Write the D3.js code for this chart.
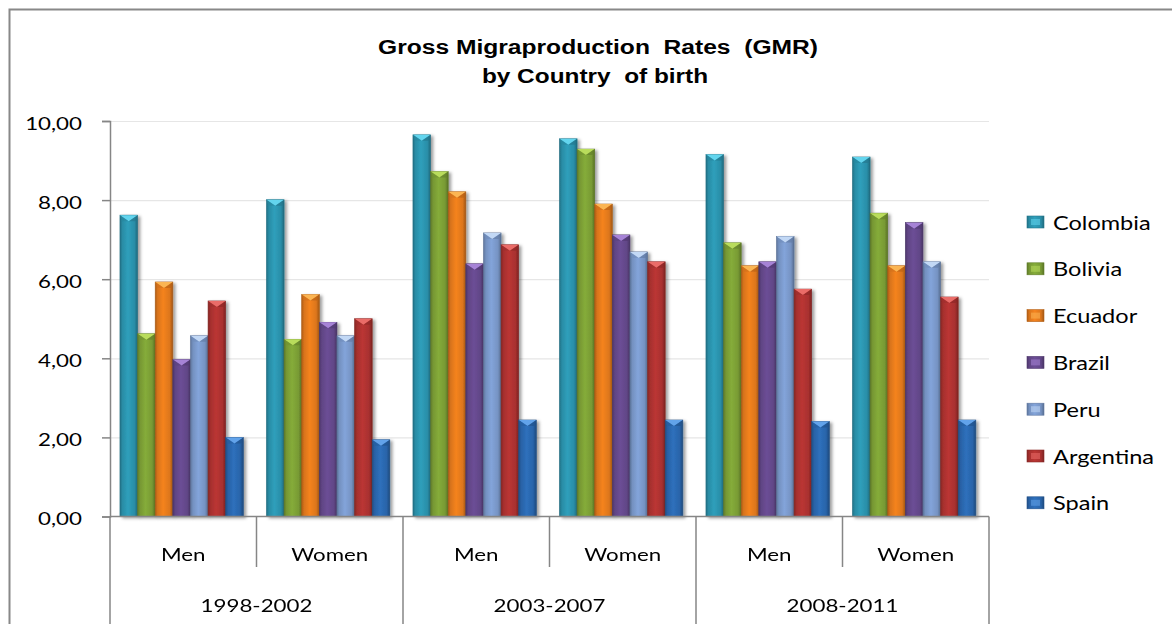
<!DOCTYPE html>
<html>
<head>
<meta charset="utf-8">
<script src="https://cdn.jsdelivr.net/npm/d3@7"></script>
<style>
  html, body { margin: 0; padding: 0; background: #fff; }
  svg { display: block; }
</style>
</head>
<body>
<svg id="chart" width="1172" height="624"></svg>
<script>
// Gross Migraproduction Rates by country of birth, per period and sex
const categories = ["Men", "Women", "Men", "Women", "Men", "Women"];
const periods = ["1998-2002", "2003-2007", "2008-2011"];
const countries = ["Colombia", "Bolivia", "Ecuador", "Brazil", "Peru", "Argentina", "Spain"];

const colombia  = [7.62, 8.01, 9.65, 9.55, 9.15, 9.09];
const bolivia   = [4.62, 4.48, 8.72, 9.29, 6.92, 7.67];
const ecuador   = [5.93, 5.61, 8.21, 7.90, 6.34, 6.34];
const brazil    = [3.97, 4.91, 6.39, 7.12, 6.44, 7.43];
const peru      = [4.57, 4.57, 7.17, 6.69, 7.08, 6.44];
const argentina = [5.45, 5.00, 6.87, 6.44, 5.75, 5.55];
const spain     = [2.00, 1.94, 2.44, 2.44, 2.40, 2.44];

const yTicks = [0, 2, 4, 6, 8, 10];

const seriesValues = [colombia, bolivia, ecuador, brazil, peru, argentina, spain];
const baseColors  = ["#2b91ab", "#7a9d35", "#e0781c", "#634789", "#7896c7", "#ab3130", "#2a66ac"];
const lightColors = ["#63d5ee", "#b9dc5c", "#fbb553", "#a683d6", "#c2d8f5", "#ea6c68", "#62a3ea"];

const svg = d3.select("#chart");
const SX = 1.24;               // horizontal text widening
const labelFont = "Lato, 'Open Sans', sans-serif";

const plot = { left: 110, right: 989, top: 121, bottom: 516.5 };

// outer chart frame (runs off the right and bottom edges)
svg.append("rect")
  .attr("x", 9.5).attr("y", 9.5)
  .attr("width", 1250).attr("height", 700)
  .attr("fill", "none").attr("stroke", "#888").attr("stroke-width", 2);

const defs = svg.append("defs");
const shadow = defs.append("filter").attr("id", "barShadow")
  .attr("x", "-30%").attr("y", "-10%").attr("width", "170%").attr("height", "130%");
shadow.append("feDropShadow")
  .attr("dx", 2.5).attr("dy", 1.5).attr("stdDeviation", 1.6)
  .attr("flood-color", "#000").attr("flood-opacity", 0.38);

baseColors.forEach((c, i) => {
  const base = d3.color(c);
  const g = defs.append("linearGradient").attr("id", "grad" + i)
    .attr("x1", 0).attr("x2", 1).attr("y1", 0).attr("y2", 0);
  g.append("stop").attr("offset", "0%").attr("stop-color", base.darker(0.7));
  g.append("stop").attr("offset", "14%").attr("stop-color", base.darker(0.1));
  g.append("stop").attr("offset", "45%").attr("stop-color", base.brighter(0.25));
  g.append("stop").attr("offset", "82%").attr("stop-color", base.darker(0.05));
  g.append("stop").attr("offset", "100%").attr("stop-color", base.darker(0.9));
});

// scales
const x0 = d3.scaleBand().domain(d3.range(categories.length))
  .range([plot.left, plot.right]).padding(0);
const bw = x0.bandwidth();
const x1 = d3.scaleBand().domain(d3.range(countries.length))
  .range([bw * 0.068, bw * 0.91]).padding(0);
const y = d3.scaleLinear().domain([0, 10]).range([plot.bottom, plot.top]);

const fmt = d3.formatLocale({ decimal: ",", thousands: ".", grouping: [3], currency: ["", "€"] }).format(".2f");

// horizontal gridlines
svg.append("g")
  .attr("transform", `translate(${plot.left},0)`)
  .call(d3.axisLeft(y).tickValues(yTicks.filter(v => v > 0))
    .tickSize(-(plot.right - plot.left)).tickFormat(""))
  .call(g => g.select(".domain").remove())
  .call(g => g.selectAll("line").attr("stroke", "#e6e6e6").attr("stroke-width", 1.2));

// bars
const barLayer = svg.append("g");
seriesValues.forEach((vals, s) => {
  const sg = barLayer.append("g").attr("filter", "url(#barShadow)");
  vals.forEach((v, i) => {
    const bx = x0(i) + x1(s);
    const w = x1.bandwidth();
    const top = y(v);
    const h = y(0) - top;
    sg.append("rect")
      .attr("x", bx).attr("y", top).attr("width", w).attr("height", h)
      .attr("fill", `url(#grad${s})`)
      .attr("stroke", d3.color(baseColors[s]).darker(0.8)).attr("stroke-width", 0.6);
    // bevelled top edge
    sg.append("path")
      .attr("d", `M${bx},${top} L${bx + w},${top} L${bx + w / 2},${top + 6} Z`)
      .attr("fill", lightColors[s]);
    sg.append("path")
      .attr("d", `M${bx},${top} L${bx + w / 2},${top + 6} L${bx + 2},${top + 6} Z`)
      .attr("fill", d3.color(baseColors[s]).darker(0.2)).attr("opacity", 0.6);
    sg.append("path")
      .attr("d", `M${bx + w},${top} L${bx + w / 2},${top + 6} L${bx + w - 2},${top + 6} Z`)
      .attr("fill", d3.color(baseColors[s]).darker(0.6)).attr("opacity", 0.6);
  });
});

// y axis with ticks and labels
const yAxis = svg.append("g")
  .attr("transform", `translate(${plot.left},0)`)
  .call(d3.axisLeft(y).tickValues(yTicks).tickSize(8).tickFormat(fmt));
yAxis.select(".domain").attr("stroke", "#868686").attr("stroke-width", 1.5);
yAxis.selectAll(".tick line").attr("stroke", "#868686").attr("stroke-width", 1.5);
yAxis.selectAll(".tick text")
  .attr("x", null).attr("dy", null)
  .attr("text-anchor", "end")
  .attr("dominant-baseline", "central")
  .attr("transform", `translate(-28,1) scale(${SX},1)`)
  .attr("font-family", labelFont).attr("font-size", 18).attr("fill", "#000");

// y axis line also runs below the plot as the first category divider
svg.append("line")
  .attr("x1", plot.left).attr("x2", plot.left)
  .attr("y1", plot.bottom).attr("y2", 624)
  .attr("stroke", "#868686").attr("stroke-width", 1.5);

// x axis baseline
svg.append("line")
  .attr("x1", plot.left).attr("x2", plot.right)
  .attr("y1", y(0)).attr("y2", y(0))
  .attr("stroke", "#868686").attr("stroke-width", 1.5);

// category dividers: short between sexes, long between periods
d3.range(1, categories.length + 1).forEach(i => {
  const xx = i < categories.length ? x0(i) : plot.right;
  const long = i % 2 === 0;
  svg.append("line")
    .attr("x1", xx).attr("x2", xx)
    .attr("y1", y(0)).attr("y2", long ? 624 : 567)
    .attr("stroke", "#868686").attr("stroke-width", 1.5);
});

// stretched text helper
function label(x, yy, txt, opts = {}) {
  return svg.append("text")
    .attr("transform", `translate(${x},${yy}) scale(${opts.sx || SX},1)`)
    .attr("text-anchor", opts.anchor || "middle")
    .attr("dominant-baseline", "central")
    .attr("font-family", opts.font || labelFont)
    .attr("font-size", opts.size || 18)
    .attr("font-weight", opts.weight || "normal")
    .attr("fill", "#000")
    .style("white-space", "pre")
    .text(txt);
}

categories.forEach((c, i) => label(x0(i) + bw / 2, 554, c));
periods.forEach((p, i) => label(x0(i * 2) + bw, 605, p));

// title
label(598, 47, "Gross Migraproduction  Rates  (GMR)", { font: "'Liberation Sans', Arial, sans-serif", weight: "bold", size: 20, sx: 1.23 });
label(595, 76, "by Country  of birth", { font: "'Liberation Sans', Arial, sans-serif", weight: "bold", size: 20, sx: 1.22 });

// legend
const legend = svg.append("g");
countries.forEach((c, i) => {
  const base = 229 + i * 46.8;
  const col = d3.color(baseColors[i]);
  legend.append("rect")
    .attr("x", 1027).attr("y", base - 13).attr("width", 17).attr("height", 12)
    .attr("fill", `url(#grad${i})`).attr("stroke", col.darker(0.6)).attr("stroke-width", 0.6);
  legend.append("rect")
    .attr("x", 1031).attr("y", base - 10).attr("width", 9).attr("height", 6)
    .attr("fill", lightColors[i]).attr("opacity", 0.55);
  label(1053, base - 6.5, c, { anchor: "start", size: 19 });
});
</script>
</body>
</html>
